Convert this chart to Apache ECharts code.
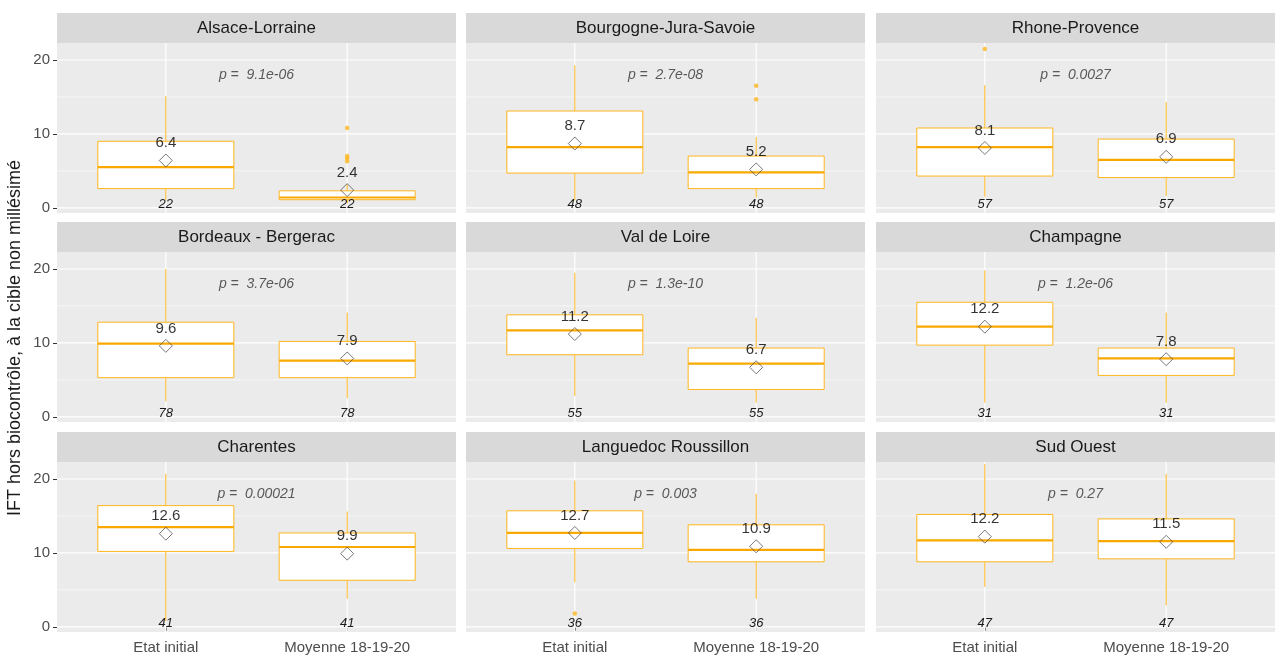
<!DOCTYPE html>
<html><head><meta charset="utf-8">
<script src="https://cdn.jsdelivr.net/npm/echarts@6/dist/echarts.min.js"></script>
<style>html,body{margin:0;padding:0;background:#fff}#chart{width:1280px;height:660px}</style>
</head><body><div id="chart"></div>
<script>
// ---------------- data ----------------
const regions = ['Alsace-Lorraine','Bourgogne-Jura-Savoie','Rhone-Provence',
  'Bordeaux - Bergerac','Val de Loire','Champagne',
  'Charentes','Languedoc Roussillon','Sud Ouest'];
const categories = ['Etat initial','Moyenne 18-19-20'];
const yTicks = [0, 10, 20];
const yMinorGrid = [5, 15];
const yTitle = 'IFT hors biocontrôle, à la cible non millésimé';
const pValues = ['9.1e-06','2.7e-08','0.0027','3.7e-06','1.3e-10','1.2e-06','0.00021','0.003','0.27'];
const nObs = [22, 48, 57, 78, 55, 31, 41, 36, 47];
// [whisker low, Q1, median, Q3, whisker high]
const boxEtat = [
  [1.0, 2.6, 5.5, 9.0, 15.1],
  [1.0, 4.7, 8.2, 13.1, 19.3],
  [1.5, 4.3, 8.2, 10.8, 16.6],
  [2.1, 5.3, 9.9, 12.8, 20.0],
  [2.8, 8.4, 11.7, 13.8, 19.5],
  [1.9, 9.7, 12.2, 15.5, 19.8],
  [0.8, 10.2, 13.5, 16.4, 20.7],
  [6.0, 10.6, 12.7, 15.7, 19.8],
  [5.4, 8.8, 11.7, 15.2, 22.0]
];
const boxMoyenne = [
  [0.6, 1.1, 1.4, 2.3, 3.2],
  [1.4, 2.6, 4.8, 7.0, 9.6],
  [1.6, 4.1, 6.5, 9.3, 14.3],
  [2.5, 5.3, 7.6, 10.2, 14.1],
  [1.9, 3.7, 7.2, 9.3, 13.4],
  [1.9, 5.6, 7.9, 9.3, 14.1],
  [3.8, 6.3, 10.8, 12.7, 15.6],
  [3.8, 8.8, 10.4, 13.8, 18.0],
  [2.9, 9.2, 11.6, 14.6, 20.7]
];
const meanEtat =    [6.4, 8.7, 8.1, 9.6, 11.2, 12.2, 12.6, 12.7, 12.2];
const meanMoyenne = [2.4, 5.2, 6.9, 7.9, 6.7, 7.8, 9.9, 10.9, 11.5];
// [region index, category (1|2), value]
const outliers = [
  [0, 2, 10.8], [0, 2, 7.0], [0, 2, 6.7], [0, 2, 6.3],
  [1, 2, 16.5], [1, 2, 14.7],
  [2, 1, 21.5],
  [7, 1, 1.8]
];
const pLabelY = 18;
const nLabelY = 0.5;

// ---------------- layout / style ----------------
const FONT = '"Liberation Sans", Arial, Helvetica, sans-serif';
const lefts = [57, 466, 876], tops = [43, 252, 462];
const W = 399, H = 170, STRIP = 30;
const BOXCOL = '#FFB61E', MEDCOL = '#F9A800';
const grids = [], xAxes = [], yAxes = [], series = [], graphics = [];

regions.forEach((name, i) => {
  const col = i % 3, row = Math.floor(i / 3);
  const left = lefts[col], top = tops[row];
  grids.push({left: left, top: top, width: W, height: H, show: true,
    backgroundColor: '#EBEBEB', borderWidth: 0});
  const bottomRow = row === 2, leftCol = col === 0;
  xAxes.push({type: 'value', gridIndex: i, min: 0.4, max: 2.6,
    axisLine: {show: false}, splitLine: {show: false},
    axisTick: {show: bottomRow, customValues: [1, 2], length: 4, lineStyle: {color: '#333'}},
    axisLabel: {show: bottomRow, customValues: [1, 2], margin: 8,
      formatter: v => categories[Math.round(v) - 1], color: '#4D4D4D', fontSize: 15, fontFamily: FONT}
  });
  yAxes.push({type: 'value', gridIndex: i, min: -0.7, max: 22.3,
    axisLine: {show: false}, splitLine: {show: false},
    axisTick: {show: leftCol, customValues: yTicks, length: 4, lineStyle: {color: '#333'}},
    axisLabel: {show: leftCol, customValues: yTicks, margin: 7, color: '#4D4D4D', fontSize: 15, fontFamily: FONT}
  });
  // strip
  graphics.push({type: 'rect', shape: {x: left, y: top - STRIP, width: W, height: STRIP},
    style: {fill: '#D9D9D9'}, silent: true});
  graphics.push({type: 'text', x: left + W / 2, y: top - STRIP / 2,
    style: {text: name, fill: '#1A1A1A', font: '17px ' + FONT, align: 'center', verticalAlign: 'middle'}, silent: true});

  // horizontal grid lines
  series.push({type: 'custom', xAxisIndex: i, yAxisIndex: i, silent: true, z: 1,
    data: yTicks.concat(yMinorGrid).map(v => [1.5, v]),
    encode: {x: 0, y: 1},
    renderItem: (params, api) => {
      const cs = params.coordSys; const v = api.value(1);
      const y = api.coord([1.5, v])[1];
      return {type: 'line', shape: {x1: cs.x, y1: y, x2: cs.x + cs.width, y2: y},
        style: {stroke: '#FFFFFF', lineWidth: (v % 10 === 0) ? 1.2 : 0.6}};
    }
  });
  // vertical grid lines
  series.push({type: 'custom', xAxisIndex: i, yAxisIndex: i, silent: true, z: 1,
    data: [[1, 10], [2, 10]], encode: {x: 0, y: 1},
    renderItem: (params, api) => {
      const cs = params.coordSys;
      const x = api.coord([api.value(0), 10])[0];
      return {type: 'line', shape: {x1: x, y1: cs.y, x2: x, y2: cs.y + cs.height},
        style: {stroke: '#FFFFFF', lineWidth: 1.2}};
    }
  });
  // boxes
  series.push({type: 'custom', xAxisIndex: i, yAxisIndex: i, z: 3,
    data: [[1].concat(boxEtat[i]), [2].concat(boxMoyenne[i])],
    encode: {x: 0, y: [1, 2, 3, 4, 5]},
    renderItem: (params, api) => {
      const x = api.value(0);
      const lo = api.coord([x, api.value(1)]), q1 = api.coord([x, api.value(2)]),
            md = api.coord([x, api.value(3)]), q3 = api.coord([x, api.value(4)]),
            hi = api.coord([x, api.value(5)]);
      const hw = api.size([0.75, 0])[0] / 2;
      return {type: 'group', children: [
        {type: 'line', shape: {x1: lo[0], y1: lo[1], x2: q1[0], y2: q1[1]}, style: {stroke: BOXCOL, lineWidth: 1}},
        {type: 'line', shape: {x1: q3[0], y1: q3[1], x2: hi[0], y2: hi[1]}, style: {stroke: BOXCOL, lineWidth: 1}},
        {type: 'rect', shape: {x: q3[0] - hw, y: q3[1], width: hw * 2, height: q1[1] - q3[1]},
          style: {fill: '#FFFFFF', stroke: BOXCOL, lineWidth: 1}},
        {type: 'line', shape: {x1: md[0] - hw, y1: md[1], x2: md[0] + hw, y2: md[1]}, style: {stroke: MEDCOL, lineWidth: 2.2}}
      ]};
    }
  });
  // outliers
  series.push({type: 'scatter', xAxisIndex: i, yAxisIndex: i, z: 4, silent: true,
    symbol: 'circle', symbolSize: 4.5, itemStyle: {color: BOXCOL},
    data: outliers.filter(o => o[0] === i).map(o => [o[1], o[2]])
  });
  // means
  series.push({type: 'scatter', xAxisIndex: i, yAxisIndex: i, z: 5, silent: true,
    symbol: 'diamond', symbolSize: 13,
    itemStyle: {color: 'rgba(255,255,255,0)', borderColor: '#555555', borderWidth: 1},
    data: [[1, meanEtat[i]], [2, meanMoyenne[i]]],
    label: {show: true, position: 'top', distance: 3, color: '#000', fontSize: 15, fontFamily: FONT,
      formatter: p => p.value[1].toFixed(1)}
  });
  // n labels and p label
  series.push({type: 'custom', xAxisIndex: i, yAxisIndex: i, z: 6, silent: true,
    data: [[1, nLabelY, 0], [2, nLabelY, 0], [1.5, pLabelY, 1]], encode: {x: 0, y: 1},
    renderItem: (params, api) => {
      const pt = api.coord([api.value(0), api.value(1)]);
      const isP = api.value(2) === 1;
      return {type: 'text', x: pt[0], y: pt[1], style: {
        text: isP ? 'p =  ' + pValues[i] : String(nObs[i]),
        fill: isP ? '#595959' : '#1A1A1A',
        font: 'italic ' + (isP ? 14 : 13) + 'px ' + FONT,
        align: 'center', verticalAlign: 'middle'}};
    }
  });
});

graphics.push({type: 'text', x: 15, y: 338, rotation: Math.PI / 2,
  style: {text: yTitle, fill: '#1A1A1A', font: '18px ' + FONT, align: 'center', verticalAlign: 'middle'}, silent: true});

const chart = echarts.init(document.getElementById('chart'), null, {renderer: 'canvas'});
chart.setOption({
  animation: false,
  backgroundColor: '#FFFFFF',
  grid: grids, xAxis: xAxes, yAxis: yAxes, series: series, graphic: graphics
});
</script>
</body></html>
